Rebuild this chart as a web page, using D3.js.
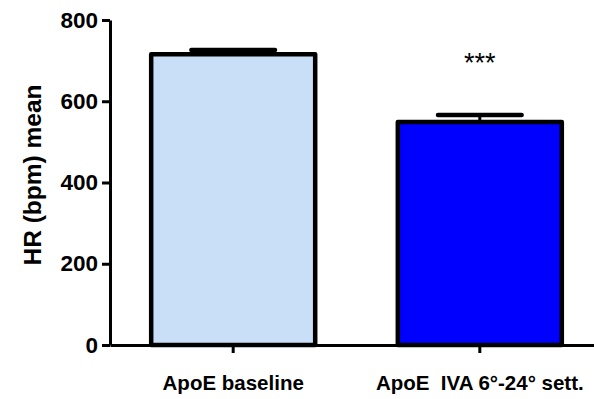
<!DOCTYPE html>
<html><head><meta charset="utf-8">
<script src="https://cdn.jsdelivr.net/npm/d3@7"></script>
<style>body{margin:0;background:#fff}svg{display:block}</style>
</head><body>
<svg id="c" width="594" height="399"></svg>
<script>
const categories = ["ApoE baseline", "ApoE  IVA 6°-24° sett."];
const means = [716, 549];
const errors = [10, 17];
const fills = ["#c9dff7", "#0000ff"];
const yTicks = [0, 200, 400, 600, 800];
const significance = ["", "***"];
const yLabel = "HR (bpm) mean";

const svg = d3.select("#c");
const font = "Liberation Sans, Arial, sans-serif";
const x = d3.scaleBand().domain(categories).range([110, 603]).paddingInner(0.335).paddingOuter(0.167);
const y = d3.scaleLinear().domain([0, 800]).range([345, 20]);

const g = svg.append("g");
categories.forEach((c, i) => {
  const cx = x(c) + x.bandwidth() / 2;
  const capW = x.bandwidth() * 0.51;
  g.append("line").attr("x1", cx).attr("x2", cx).attr("y1", y(means[i])).attr("y2", y(means[i] + errors[i]))
    .attr("stroke", "#000").attr("stroke-width", 3);
  g.append("line").attr("x1", cx - capW / 2).attr("x2", cx + capW / 2)
    .attr("y1", y(means[i] + errors[i])).attr("y2", y(means[i] + errors[i]))
    .attr("stroke", "#000").attr("stroke-width", 4.5).attr("stroke-linecap", "round");
  g.append("rect").attr("x", x(c)).attr("width", x.bandwidth())
    .attr("y", y(means[i])).attr("height", y(0) - y(means[i]))
    .attr("fill", fills[i]).attr("stroke", "#000").attr("stroke-width", 4.5).attr("stroke-linejoin", "round");
  if (significance[i]) {
    g.append("text").attr("x", cx).attr("y", y(means[i] + errors[i]) - 43)
      .attr("text-anchor", "middle").attr("font-family", font).attr("font-size", 27)
      .text(significance[i]);
  }
});

const ya = svg.append("g").attr("transform", "translate(110,0)")
  .call(d3.axisLeft(y).tickValues(yTicks).tickSize(8).tickSizeOuter(0).tickPadding(4));
ya.select(".domain").attr("stroke-width", 3);
ya.selectAll(".tick line").attr("stroke-width", 3);
ya.selectAll("text").attr("font-family", font).attr("font-weight", "bold").attr("font-size", 22.5).attr("fill", "#000");

const xa = svg.append("g").attr("transform", "translate(0,345)")
  .call(d3.axisBottom(x).tickSize(8).tickSizeOuter(0).tickPadding(22));
xa.select(".domain").attr("stroke-width", 3);
xa.selectAll(".tick line").attr("stroke-width", 3);
xa.selectAll("text").attr("font-family", font).attr("font-weight", "bold").attr("font-size", 20.5).attr("fill", "#000")
  .style("white-space", "pre").attr("xml:space", "preserve");

svg.append("text").attr("transform", "translate(41,175) rotate(-90)")
  .attr("text-anchor", "middle").attr("font-family", font).attr("font-weight", "bold").attr("font-size", 24.5)
  .text(yLabel);
</script>
</body></html>
